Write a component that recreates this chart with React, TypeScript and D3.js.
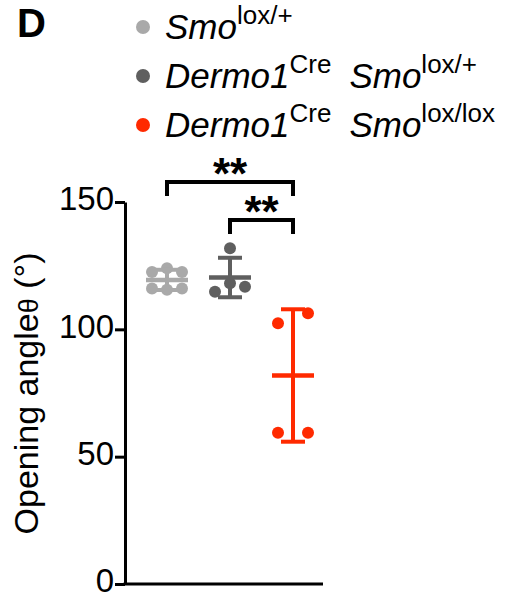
import React, { useRef, useEffect } from "react";
import * as d3 from "d3";

// groups shown on the x axis (no labels drawn, legend identifies them)
const groups = ["Smo lox/+", "Dermo1Cre Smo lox/+", "Dermo1Cre Smo lox/lox"];
const groupColors = ["#a9a9a9", "#5f5f5f", "#ff2a00"];

// opening angle (deg) of each embryo
const smoLoxPlus = [122.5, 124, 122.5, 116, 115.5, 116];
const creLoxPlus = [131.8, 118.1, 116.7, 114.8];
const creLoxLox = [102.4, 106.3, 59.4, 59.4];
const seriesValues = [smoLoxPlus, creLoxPlus, creLoxLox];

// column slot of each dot inside its scatter (-1 left, 0 middle, 1 right)
const smoSlots = [-1, 0, 1, -1, 0, 1];
const creLoxPlusSlots = [0, 0, 1, -1];
const creLoxLoxSlots = [-1, 1, -1, 1];
const seriesSlots = [smoSlots, creLoxPlusSlots, creLoxLoxSlots];

const yTicks = [0, 50, 100, 150];

// significance comparisons between groups
const comparisons = [
  { from: 0, to: 2, label: "**" },
  { from: 1, to: 2, label: "**" },
];

// legend text, pieces flagged as superscript
const legendLabels = [
  [["Smo", false], ["lox/+", true]],
  [["Dermo1", false], ["Cre", true], ["Smo", false], ["lox/+", true]],
  [["Dermo1", false], ["Cre", true], ["Smo", false], ["lox/lox", true]],
];

const FONT = "'Liberation Sans', Arial, Helvetica, sans-serif";

function OpeningAngleChart() {
  const svgRef = useRef(null);

  useEffect(() => {
    const svg = d3.select(svgRef.current);
    svg.selectAll("*").remove();

    const width = 525,
      height = 598;
    const axisX = 125;

    const y = d3.scaleLinear().domain([0, 150]).range([584, 202]);
    const x = d3.scalePoint().domain(groups).range([167, 293]);
    const slotWidth = 15;

    svg.attr("width", width).attr("height", height);

    // panel letter
    svg
      .append("text")
      .attr("x", 17)
      .attr("y", 37)
      .attr("font-family", FONT)
      .attr("font-weight", "bold")
      .attr("font-size", 40)
      .text("D");

    // legend
    const legend = svg.append("g");
    legendLabels.forEach((parts, i) => {
      const base = 39 + i * 49;
      legend
        .append("circle")
        .attr("cx", 143)
        .attr("cy", base - 12)
        .attr("r", 7)
        .attr("fill", groupColors[i]);
      const t = legend
        .append("text")
        .attr("x", 165)
        .attr("y", base)
        .attr("font-family", FONT)
        .attr("fill", "#000");
      let raised = false;
      parts.forEach(([txt, sup], j) => {
        const ts = t.append("tspan").text(txt);
        if (sup) {
          ts.attr("font-size", 26).attr("font-style", "normal");
          if (!raised) ts.attr("dy", -15);
          raised = true;
        } else {
          ts.attr("font-size", 35).attr("font-style", "italic");
          if (raised) ts.attr("dy", 15);
          if (j > 0) ts.attr("dx", 18);
          raised = false;
        }
      });
    });

    // y axis
    const yAxis = d3
      .axisLeft(y)
      .tickValues(yTicks)
      .tickSize(10)
      .tickSizeOuter(0)
      .tickPadding(1);

    const gy = svg
      .append("g")
      .attr("transform", `translate(${axisX},0)`)
      .call(yAxis);
    gy.select(".domain").attr("stroke", "#000").attr("stroke-width", 3);
    gy.selectAll(".tick line").attr("stroke", "#000").attr("stroke-width", 3);
    gy.selectAll(".tick text")
      .attr("font-family", FONT)
      .attr("font-size", 33)
      .attr("fill", "#000")
      .attr("dy", "0.24em");

    // x axis baseline
    svg
      .append("line")
      .attr("x1", axisX - 1.5)
      .attr("x2", 323)
      .attr("y1", y(0))
      .attr("y2", y(0))
      .attr("stroke", "#000")
      .attr("stroke-width", 3);

    // y axis title
    const title = svg
      .append("text")
      .attr("transform", `translate(38,${(247 + 540) / 2}) rotate(-90)`)
      .attr("text-anchor", "middle")
      .attr("font-family", FONT)
      .attr("font-size", 34)
      .attr("fill", "#000");
    title.append("tspan").text("Opening angle");
    title.append("tspan").attr("font-size", 27).text("θ");
    title.append("tspan").text(" (°)");

    // mean ± SD and dots
    seriesValues.forEach((vals, i) => {
      const cx = x(groups[i]);
      const color = groupColors[i];
      const m = d3.mean(vals);
      const sd = d3.deviation(vals);
      const g = svg.append("g");

      g.selectAll("circle")
        .data(vals)
        .join("circle")
        .attr("cx", (d, k) => cx + seriesSlots[i][k] * slotWidth)
        .attr("cy", (d) => y(d))
        .attr("r", 6)
        .attr("fill", color);

      g.append("line")
        .attr("x1", cx)
        .attr("x2", cx)
        .attr("y1", y(m + sd))
        .attr("y2", y(m - sd))
        .attr("stroke", color)
        .attr("stroke-width", 4);
      [m + sd, m - sd].forEach((v) =>
        g
          .append("line")
          .attr("x1", cx - 12)
          .attr("x2", cx + 12)
          .attr("y1", y(v))
          .attr("y2", y(v))
          .attr("stroke", color)
          .attr("stroke-width", 4)
      );
      g.append("line")
        .attr("x1", cx - 21)
        .attr("x2", cx + 21)
        .attr("y1", y(m))
        .attr("y2", y(m))
        .attr("stroke", color)
        .attr("stroke-width", 4.5);
    });

    // significance brackets
    const bracketY = [182, 220];
    const starSize = 44;
    comparisons.forEach((c, i) => {
      const x1 = x(groups[c.from]);
      const x2 = x(groups[c.to]);
      const by = bracketY[i];
      svg
        .append("path")
        .attr("d", `M${x1},${by + 14}V${by}H${x2}V${by + 14}`)
        .attr("fill", "none")
        .attr("stroke", "#000")
        .attr("stroke-width", 4);
      svg
        .append("text")
        .attr("x", (x1 + x2) / 2)
        .attr("y", by + 7)
        .attr("text-anchor", "middle")
        .attr("font-family", FONT)
        .attr("font-weight", "bold")
        .attr("font-size", starSize)
        .text(c.label);
    });
  }, []);

  return (
    <svg
      ref={svgRef}
      style={{ position: "absolute", left: 0, top: 0, display: "block" }}
    ></svg>
  );
}

export default function App() {
  return <OpeningAngleChart />;
}
